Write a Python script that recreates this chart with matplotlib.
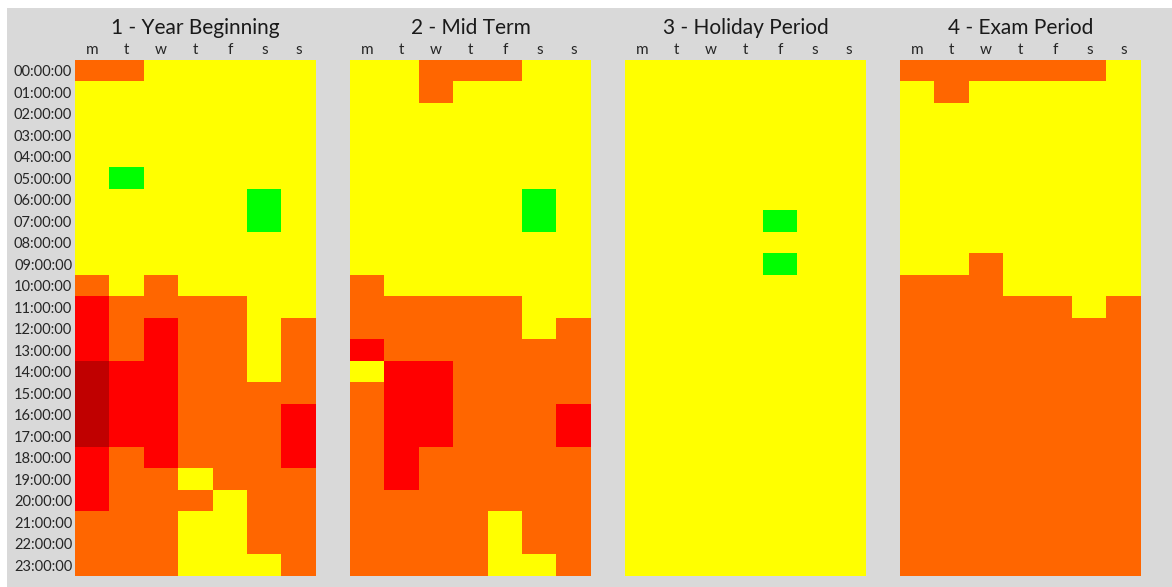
import numpy as np
import matplotlib
matplotlib.use("Agg")
import matplotlib.pyplot as plt
from matplotlib.colors import ListedColormap, BoundaryNorm
from matplotlib.patches import Rectangle

plt.rcParams['font.family'] = ['Lato', 'DejaVu Sans']

# codigos: -1 verde, 0 amarillo, 1 naranja, 2 rojo, 3 rojo oscuro
titulos = ["1 - Year Beginning", "2 - Mid Term", "3 - Holiday Period", "4 - Exam Period"]
dias = ["m", "t", "w", "t", "f", "s", "s"]
horas = ["%02d:00:00" % h for h in range(24)]

year_beginning = [
    [1, 1, 0, 0, 0, 0, 0],
    [0, 0, 0, 0, 0, 0, 0],
    [0, 0, 0, 0, 0, 0, 0],
    [0, 0, 0, 0, 0, 0, 0],
    [0, 0, 0, 0, 0, 0, 0],
    [0, -1, 0, 0, 0, 0, 0],
    [0, 0, 0, 0, 0, -1, 0],
    [0, 0, 0, 0, 0, -1, 0],
    [0, 0, 0, 0, 0, 0, 0],
    [0, 0, 0, 0, 0, 0, 0],
    [1, 0, 1, 0, 0, 0, 0],
    [2, 1, 1, 1, 1, 0, 0],
    [2, 1, 2, 1, 1, 0, 1],
    [2, 1, 2, 1, 1, 0, 1],
    [3, 2, 2, 1, 1, 0, 1],
    [3, 2, 2, 1, 1, 1, 1],
    [3, 2, 2, 1, 1, 1, 2],
    [3, 2, 2, 1, 1, 1, 2],
    [2, 1, 2, 1, 1, 1, 2],
    [2, 1, 1, 0, 1, 1, 1],
    [2, 1, 1, 1, 0, 1, 1],
    [1, 1, 1, 0, 0, 1, 1],
    [1, 1, 1, 0, 0, 1, 1],
    [1, 1, 1, 0, 0, 0, 1],
]

mid_term = [
    [0, 0, 1, 1, 1, 0, 0],
    [0, 0, 1, 0, 0, 0, 0],
    [0, 0, 0, 0, 0, 0, 0],
    [0, 0, 0, 0, 0, 0, 0],
    [0, 0, 0, 0, 0, 0, 0],
    [0, 0, 0, 0, 0, 0, 0],
    [0, 0, 0, 0, 0, -1, 0],
    [0, 0, 0, 0, 0, -1, 0],
    [0, 0, 0, 0, 0, 0, 0],
    [0, 0, 0, 0, 0, 0, 0],
    [1, 0, 0, 0, 0, 0, 0],
    [1, 1, 1, 1, 1, 0, 0],
    [1, 1, 1, 1, 1, 0, 1],
    [2, 1, 1, 1, 1, 1, 1],
    [0, 2, 2, 1, 1, 1, 1],
    [1, 2, 2, 1, 1, 1, 1],
    [1, 2, 2, 1, 1, 1, 2],
    [1, 2, 2, 1, 1, 1, 2],
    [1, 2, 1, 1, 1, 1, 1],
    [1, 2, 1, 1, 1, 1, 1],
    [1, 1, 1, 1, 1, 1, 1],
    [1, 1, 1, 1, 0, 1, 1],
    [1, 1, 1, 1, 0, 1, 1],
    [1, 1, 1, 1, 0, 0, 1],
]

holiday = [
    [0, 0, 0, 0, 0, 0, 0],
    [0, 0, 0, 0, 0, 0, 0],
    [0, 0, 0, 0, 0, 0, 0],
    [0, 0, 0, 0, 0, 0, 0],
    [0, 0, 0, 0, 0, 0, 0],
    [0, 0, 0, 0, 0, 0, 0],
    [0, 0, 0, 0, 0, 0, 0],
    [0, 0, 0, 0, -1, 0, 0],
    [0, 0, 0, 0, 0, 0, 0],
    [0, 0, 0, 0, -1, 0, 0],
    [0, 0, 0, 0, 0, 0, 0],
    [0, 0, 0, 0, 0, 0, 0],
    [0, 0, 0, 0, 0, 0, 0],
    [0, 0, 0, 0, 0, 0, 0],
    [0, 0, 0, 0, 0, 0, 0],
    [0, 0, 0, 0, 0, 0, 0],
    [0, 0, 0, 0, 0, 0, 0],
    [0, 0, 0, 0, 0, 0, 0],
    [0, 0, 0, 0, 0, 0, 0],
    [0, 0, 0, 0, 0, 0, 0],
    [0, 0, 0, 0, 0, 0, 0],
    [0, 0, 0, 0, 0, 0, 0],
    [0, 0, 0, 0, 0, 0, 0],
    [0, 0, 0, 0, 0, 0, 0],
]

exam = [
    [1, 1, 1, 1, 1, 1, 0],
    [0, 1, 0, 0, 0, 0, 0],
    [0, 0, 0, 0, 0, 0, 0],
    [0, 0, 0, 0, 0, 0, 0],
    [0, 0, 0, 0, 0, 0, 0],
    [0, 0, 0, 0, 0, 0, 0],
    [0, 0, 0, 0, 0, 0, 0],
    [0, 0, 0, 0, 0, 0, 0],
    [0, 0, 0, 0, 0, 0, 0],
    [0, 0, 1, 0, 0, 0, 0],
    [1, 1, 1, 0, 0, 0, 0],
    [1, 1, 1, 1, 1, 0, 1],
    [1, 1, 1, 1, 1, 1, 1],
    [1, 1, 1, 1, 1, 1, 1],
    [1, 1, 1, 1, 1, 1, 1],
    [1, 1, 1, 1, 1, 1, 1],
    [1, 1, 1, 1, 1, 1, 1],
    [1, 1, 1, 1, 1, 1, 1],
    [1, 1, 1, 1, 1, 1, 1],
    [1, 1, 1, 1, 1, 1, 1],
    [1, 1, 1, 1, 1, 1, 1],
    [1, 1, 1, 1, 1, 1, 1],
    [1, 1, 1, 1, 1, 1, 1],
    [1, 1, 1, 1, 1, 1, 1],
]

colores = ["#00FF00", "#FFFF00", "#FF6600", "#FF0000", "#C00000"]
cmap = ListedColormap(colores)
norm = BoundaryNorm([-1.5, -0.5, 0.5, 1.5, 2.5, 3.5], cmap.N)

W, H = 1172, 587
fig = plt.figure(figsize=(W / 100, H / 100), dpi=100, facecolor="white")
# fondo gris como en la hoja de calculo
fig.patches.append(Rectangle((7 / W, 0), 1, 1 - 8 / H, transform=fig.transFigure,
                             facecolor="#D9D9D9", edgecolor="none", zorder=-1))

paneles = [year_beginning, mid_term, holiday, exam]
lefts = [75, 350, 625, 900]
for i, datos in enumerate(paneles):
    ax = fig.add_axes([lefts[i] / W, 11 / H, 241 / W, 516 / H])
    ax.imshow(np.array(datos), cmap=cmap, norm=norm, aspect="auto", interpolation="nearest")
    for s in ax.spines.values():
        s.set_visible(False)
    ax.xaxis.tick_top()
    ax.set_xticks(range(7))
    ax.set_xticklabels(dias, fontsize=11, color="#262626")
    ax.tick_params(length=0, pad=2)
    if i == 0:
        ax.set_yticks(range(24))
        ax.set_yticklabels(horas, fontsize=10.5, color="#262626")
    else:
        ax.set_yticks([])
    ax.set_title(titulos[i], fontsize=15, color="#1a1a1a", pad=19)

fig.savefig("out.png", dpi=100, facecolor=fig.get_facecolor())
